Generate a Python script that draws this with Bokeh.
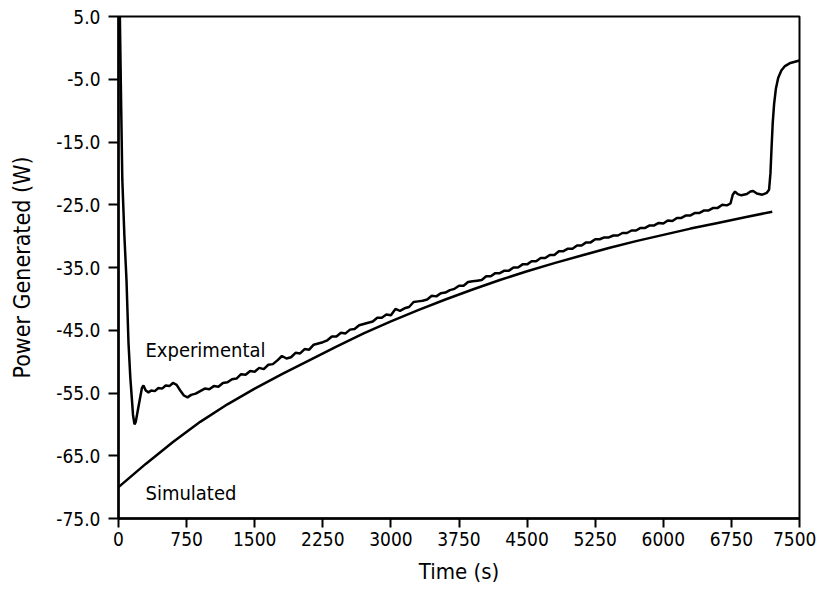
from bokeh.plotting import figure
from bokeh.models import Range1d, FixedTicker, Label
from bokeh.embed import file_html
from bokeh.resources import INLINE

FONT = "DejaVu Sans Condensed, Liberation Sans Narrow, Roboto"

x_ticks = [0, 750, 1500, 2250, 3000, 3750, 4500, 5250, 6000, 6750, 7500]
y_ticks = [5.0, -5.0, -15.0, -25.0, -35.0, -45.0, -55.0, -65.0, -75.0]

sim_t = [0, 300, 600, 900, 1200, 1500, 1800, 2100, 2400, 2700, 3000, 3300, 3600,
         3900, 4200, 4500, 4800, 5100, 5400, 5700, 6000, 6300, 6600, 6900, 7200]
sim_p = [-70.0, -66.3, -62.8, -59.6, -56.8, -54.3, -52.0, -49.8, -47.6, -45.5, -43.6,
         -41.8, -40.1, -38.5, -37.0, -35.6, -34.3, -33.1, -31.9, -30.8, -29.8, -28.8,
         -27.9, -27.0, -26.1]

exp_t = [15, 28, 42, 65, 88, 110, 130, 145, 160, 176, 190, 210, 235, 258, 275, 300,
         330, 360, 400, 440, 480, 520, 560, 600, 640, 680, 720, 760, 800, 850,
         900, 950, 1000, 1050, 1100, 1150, 1200, 1250, 1300, 1350, 1400, 1450, 1500,
         1550, 1600, 1650, 1700, 1750, 1800, 1850, 1900, 1950, 2000, 2050, 2100, 2150,
         2200, 2250, 2300, 2350, 2400, 2450, 2500, 2550, 2600, 2650, 2700, 2750, 2800,
         2850, 2900, 2950, 3000, 3050, 3100, 3150, 3200, 3250, 3300, 3350, 3400, 3450,
         3500, 3550, 3600, 3650, 3700, 3750, 3800, 3850, 3900, 3950, 4000, 4050, 4100,
         4150, 4200, 4250, 4300, 4350, 4400, 4450, 4500, 4550, 4600, 4650, 4700, 4750,
         4800, 4850, 4900, 4950, 5000, 5050, 5100, 5150, 5200, 5250, 5300, 5350, 5400,
         5450, 5500, 5550, 5600, 5650, 5700, 5750, 5800, 5850, 5900, 5950, 6000, 6050,
         6100, 6150, 6200, 6250, 6300, 6350, 6400, 6450, 6500, 6550, 6600, 6650, 6700,
         6740, 6765, 6790, 6820, 6860, 6920, 6960, 6990, 7030, 7090, 7140, 7165, 7180,
         7192, 7205, 7220, 7240, 7265, 7300, 7340, 7400, 7450, 7500]
exp_p = [5.0, -8.0, -21.0, -30.0, -37.0, -47.0, -52.5, -55.5, -58.5, -60.0, -59.6, -58.0,
         -56.0, -54.2, -53.8, -54.6, -54.9, -54.6, -54.7, -54.2, -54.3, -53.8, -53.9,
         -53.4, -53.7, -54.6, -55.4, -55.7, -55.3, -55.1,
         -54.7, -54.3, -54.4, -53.9, -54.0, -53.4, -53.3, -52.8, -52.7, -52.0, -52.1,
         -51.5, -51.6, -51.0, -51.2, -50.5, -50.4, -49.8, -49.1, -49.5, -49.3, -48.6,
         -48.7, -48.0, -48.1, -47.3, -47.1, -46.9, -46.6, -46.0, -46.0, -45.4, -45.5,
         -44.9, -44.8, -44.2, -44.0, -43.8, -43.6, -43.0, -43.0, -42.5, -42.6, -41.6,
         -41.9, -41.5, -41.3, -40.5, -40.4, -40.3, -40.1, -39.5, -39.6, -39.1, -39.0,
         -38.6, -38.4, -37.9, -37.9, -37.3, -37.2, -37.1, -37.0, -36.4, -36.4, -35.9,
         -35.9, -35.5, -35.5, -35.0, -35.0, -34.5, -34.5, -34.0, -34.0, -33.5, -33.5,
         -33.0, -33.0, -32.4, -32.4, -32.0, -32.0, -31.5, -31.5, -31.0, -31.0, -30.5,
         -30.5, -30.2, -30.2, -29.9, -29.9, -29.5, -29.5, -29.1, -29.1, -28.7, -28.7,
         -28.3, -28.3, -27.9, -28.0, -27.5, -27.6, -27.1, -27.1, -26.7, -26.7, -26.3,
         -26.3, -25.9, -25.9, -25.5, -25.5, -25.0, -25.1,
         -24.8, -23.4, -22.9, -23.3, -23.5, -23.3, -22.9, -22.8, -23.2, -23.4, -23.1,
         -22.6, -20.0, -16.0, -12.0, -9.0, -6.5, -4.8, -3.6, -2.9, -2.4, -2.2, -2.0]

p = figure(width=816, height=586, output_backend="svg", toolbar_location=None,
           x_range=Range1d(0, 7500), y_range=Range1d(-75, 5),
           min_border_left=118, min_border_right=17, min_border_top=16,
           min_border_bottom=65)
p.background_fill_color = "white"
p.border_fill_color = "white"
p.outline_line_color = "black"
p.outline_line_width = 2
p.xgrid.visible = False
p.ygrid.visible = False

p.line(sim_t, sim_p, line_color="black", line_width=2.5)
p.line(exp_t, exp_p, line_color="black", line_width=2.5)

for ax in (p.xaxis[0], p.yaxis[0]):
    ax.axis_line_width = 2.5
    ax.axis_line_color = "black"
    ax.major_tick_line_width = 2
    ax.major_tick_line_color = "black"
    ax.major_tick_in = 0
    ax.minor_tick_line_color = None
    ax.major_label_text_font = FONT
    ax.major_label_text_font_size = "19px"
    ax.major_label_text_color = "black"
    ax.axis_label_text_font = FONT
    ax.axis_label_text_font_style = "normal"
    ax.axis_label_text_color = "black"

p.xaxis.axis_label_text_font_size = "22px"
p.yaxis.axis_label_text_font_size = "23px"
p.xaxis.ticker = FixedTicker(ticks=x_ticks)
p.yaxis.ticker = FixedTicker(ticks=y_ticks)
p.xaxis.major_label_overrides = {t: str(t) for t in x_ticks}
p.yaxis.major_label_overrides = {t: f"{t:.1f}" for t in y_ticks}
p.xaxis.major_tick_out = 9
p.yaxis.major_tick_out = 10
p.xaxis.major_label_standoff = 4
p.yaxis.major_label_standoff = 8
p.xaxis.axis_label = "Time (s)"
p.yaxis.axis_label = "Power Generated (W)"
p.xaxis.axis_label_standoff = 10
p.yaxis.axis_label_standoff = 18

p.add_layout(Label(x=297, y=-48.2, text="Experimental", text_font=FONT,
                   text_font_size="20px", text_baseline="alphabetic",
                   text_color="black"))
p.add_layout(Label(x=297, y=-70.9, text="Simulated", text_font=FONT,
                   text_font_size="20px", text_baseline="alphabetic",
                   text_color="black"))

open("out.html", "w").write(file_html(p, INLINE))
